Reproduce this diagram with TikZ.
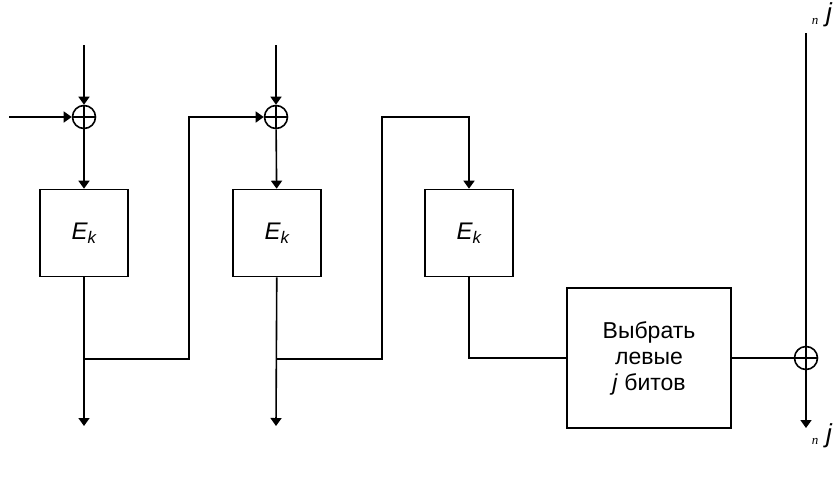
\documentclass[tikz,border=0pt]{standalone}
\usepackage{fontspec}
\setmainfont{Liberation Sans}
\newfontfamily\serifn{Liberation Serif}
\usetikzlibrary{arrows.meta}
\begin{document}
\begin{tikzpicture}[x=1pt,y=-1pt, line width=1.6pt, >={Triangle[length=8pt,width=11pt]},
 xorn/.style={circle,draw,minimum size=23pt,inner sep=0pt,
   path picture={\draw (path picture bounding box.north) -- (path picture bounding box.south) (path picture bounding box.west) -- (path picture bounding box.east);}},
 ebox/.style={draw, minimum width=88pt, minimum height=87pt, inner sep=0pt, font=\fontsize{24}{28}\selectfont},
 selbox/.style={draw, minimum width=164pt, minimum height=140pt, inner sep=0pt, align=center, font=\fontsize{23}{26}\selectfont},
 smalln/.style={inner sep=0pt, font=\serifn\itshape\fontsize{13}{13}\selectfont},
 bigj/.style={inner sep=0pt, font=\itshape\fontsize{26}{26}\selectfont}]
\useasboundingbox (0,0) rectangle (840,483);
% XORs
\node[xorn] (x1) at (84,117) {};
\node[xorn] (x2) at (276,117) {};
\node[xorn] (x3) at (806,358) {};
% boxes
\node[ebox] (e1) at (84,233) {\itshape E\textsubscript{k}};
\node[ebox] (e2) at (277,233) {\itshape E\textsubscript{k}};
\node[ebox] (e3) at (469,233) {\itshape E\textsubscript{k}};
\node[selbox] (s) at (649,358) {Выбрать\\левые\\\textit{j} битов};
% coordinates
\coordinate (t1) at (84,45);
\coordinate (t2) at (276,45);
\coordinate (in) at (9,117);
\coordinate (j1) at (84,359);
\coordinate (o1) at (84,426);
\coordinate (j2) at (276,359);
\coordinate (o2) at (276,426);
\coordinate (f1a) at (189,359);
\coordinate (f1b) at (189,117);
\coordinate (f2a) at (382,359);
\coordinate (f2b) at (382,117);
\coordinate (f2c) at (469,117);
\coordinate (j3) at (469,358);
\coordinate (t4) at (806,33);
\coordinate (o4) at (806,428);
% connectors
\draw[->] (t1) -- (x1);
\draw[->] (in) -- (x1);
\draw[->] (x1) -- (e1);
\draw[->] (e1) -- (o1);
\draw[->] (j1) -- (f1a) -- (f1b) -- (x2);
\draw[->] (t2) -- (x2);
\draw[->] (x2) -- (e2);
\draw[->] (e2) -- (o2);
\draw[->] (j2) -- (f2a) -- (f2b) -- (f2c) -- (e3);
\draw (e3) -- (j3) -- (s);
\draw (s) -- (x3);
\draw (t4) -- (x3);
\draw[->] (x3) -- (o4);
% labels
\node[smalln] (n1) at (815,21) {n};
\node[bigj] (jl1) at (829,15) {j};
\node[smalln] (n2) at (815,441) {n};
\node[bigj] (jl2) at (829,436) {j};
\end{tikzpicture}
\end{document}
